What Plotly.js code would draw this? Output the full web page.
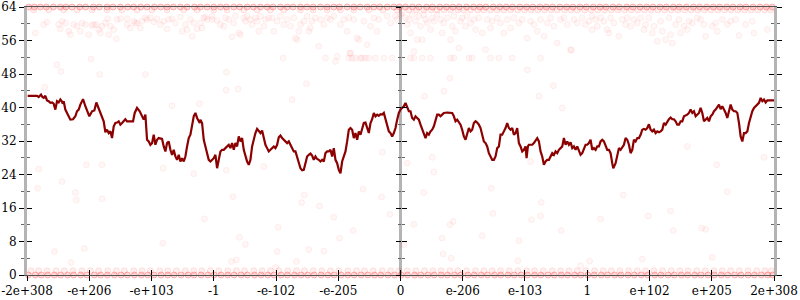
<!DOCTYPE html>
<html><head><meta charset="utf-8">
<script src="https://cdn.plot.ly/plotly-3.0.1.min.js"></script>
<style>html,body{margin:0;padding:0;background:#fff}#chart{width:800px;height:300px}</style>
</head><body><div id="chart"></div>
<script>
// X tick positions (ordinal float axis) and labels
const tickPos = [-1120,-933.3,-746.7,-560,-373.3,-186.7,0,186.7,373.3,560,746.7,933.3,1120];
const tickLabels = ['-2e+308','-e+206','-e+103','-1','-e-102','-e-205','0','e-206','e-103','1','e+102','e+205','2e+308'];
const yTicks = [0,8,16,24,32,40,48,56,64];

// Main line series
const lineX = [-1118,-1090,-1085,-1078,-1074,-1070,-1065,-1060,-1055,-1050,-1045,-1040,-1035,-1030,-1025,-1020,-1015,-1013,-1010,-1005,-1000,-995,-990,-982,-975,-970,-965,-960,-952,-945,-938,-933,-925,-918,-912,-905,-900,-895,-890,-885,-880,-875,-870,-865,-860,-855,-850,-845,-840,-835,-830,-825,-820,-810,-802,-797,-790,-782,-775,-770,-765,-760,-755,-750,-745,-740,-735,-730,-725,-715,-710,-705,-700,-695,-690,-685,-680,-675,-670,-665,-660,-655,-650,-645,-640,-635,-630,-625,-620,-615,-610,-602,
-600,-595,-590,-585,-580,-575,-570,-560,-555,-550,-545,-540,-535,-530,-525,-520,-515,-510,-505,-500,-495,-490,-485,-480,-475,-470,-465,-460,-455,-450,-445,-440,-435,-430,-425,-420,-415,-410,-405,-400,-395,-390,-385,-380,-375,-370,-365,-360,-355,-350,-345,-340,-335,-330,-325,-320,-315,-310,-305,-300,-295,-290,-285,-280,-275,-270,-265,-260,-255,-250,-245,-240,-235,-230,-225,-220,-215,-210,-205,-200,-195,-190,-185,-180,-175,-170,-165,-160,-155,-150,-145,-140,-135,-130,-125,-120,-115,-110,-105,-100,-95,-90,-85,-80,-75,-70,-65,-60,-55,-50,-45,-40,-35,-30,-25,-20,-15,-10,-5,
0,5,10,15,20,25,30,35,40,45,50,55,60,65,70,75,80,85,90,95,100,105,110,115,120,125,130,140,150,155,160,165,170,175,180,185,190,195,200,205,210,215,220,225,230,235,240,245,250,255,260,265,270,275,280,285,290,295,300,305,310,315,320,325,330,335,340,345,350,355,360,365,370,375,378,382,385,390,395,400,405,410,415,420,425,430,435,440,445,450,455,460,465,470,475,480,485,490,495,500,505,510,515,520,525,530,535,540,545,550,555,560,565,570,575,580,585,590,595,
600,605,610,615,620,625,630,635,638,645,650,655,660,665,670,675,680,685,690,695,700,705,710,715,720,725,730,735,740,745,750,755,760,765,770,775,780,785,790,795,800,805,810,815,820,825,830,835,840,845,850,855,860,865,870,875,880,885,890,895,900,905,910,915,920,925,930,935,940,945,950,955,960,965,970,975,980,985,990,995,1000,1005,1010,1015,1020,1025,1030,1035,1040,1045,1050,1055,1060,1065,1070,1075,1080,1085,1090,1095,1100,1105,1110,1120];
const lineY = [42.8,42.8,42.5,43.1,42.5,42.3,42.8,41.7,41.5,41.1,41.2,40.9,39.5,41.5,41.2,41.9,41.4,40.9,41.5,39.5,38.7,37.9,37.1,37.2,37.9,39.1,39.5,40.7,42.0,40.3,38.7,37.9,39.1,39.3,41.2,39.9,38.7,37.7,36.7,34.1,34.7,33.9,34.3,32.7,35.5,36.3,36.4,36.7,35.9,36.3,36.7,37.2,36.7,36.7,36.7,38.7,39.9,39.1,37.9,37.1,38.3,32.3,31.9,31.1,31.5,33.5,31.1,32.3,32.7,32.5,30.7,29.5,31.5,31.9,29.9,28.7,29.9,28.3,27.5,28.7,27.1,27.9,27.1,28.3,30.7,32.7,33.5,35.5,37.9,38.7,37.5,36.3,
37.1,36.3,32.3,30.7,28.7,27.5,27.1,27.9,28.7,25.5,27.5,29.5,29.9,29.9,30.3,30.7,31.1,30.3,31.5,29.9,31.5,30.7,33.1,31.9,32.7,29.9,28.3,27.1,26.3,27.5,30.7,32.7,33.9,34.9,34.3,33.9,34.5,32.7,31.1,30.3,29.5,29.9,30.3,30.7,30.3,31.1,32.9,33.3,32.7,32.3,31.9,31.5,31.9,31.1,30.7,29.5,29.5,28.3,26.7,25.5,25.0,25.1,26.7,28.3,28.7,29.0,28.5,27.5,28.3,27.7,27.5,27.1,27.5,27.1,29.1,29.5,29.5,29.9,28.3,30.3,27.5,26.7,25.1,24.3,27.1,28.3,29.5,31.9,34.7,35.1,34.7,32.7,33.9,32.3,34.3,33.5,34.7,36.3,36.4,35.1,33.9,36.3,37.2,38.7,37.9,38.3,38.0,38.4,38.3,38.7,37.1,35.5,34.3,33.9,33.1,33.9,35.1,37.1,38.7,
39.5,39.9,40.3,41.1,39.9,39.1,39.1,37.5,37.1,37.9,37.5,37.1,35.9,34.7,33.5,32.7,33.9,33.5,34.3,34.7,35.5,37.1,38.3,38.3,37.9,38.3,38.7,38.8,38.8,38.7,37.9,36.7,37.1,36.3,35.9,34.7,33.1,32.3,33.9,35.1,34.3,34.7,36.3,36.7,36.4,35.9,35.1,33.5,31.9,31.5,30.7,29.1,28.3,27.5,27.5,28.3,30.3,30.7,33.5,33.5,34.3,35.1,36.3,35.1,34.7,35.1,33.5,33.9,35.1,31.5,30.7,29.5,29.9,30.7,27.9,30.7,31.1,31.1,31.1,31.5,32.3,32.7,31.9,29.5,28.3,26.3,27.1,27.5,27.5,28.3,29.1,28.7,29.5,29.1,29.9,30.3,30.7,32.7,31.1,31.9,31.1,31.7,30.3,30.7,29.9,30.7,29.5,28.7,29.1,30.3,31.1,31.1,31.5,32.3,29.9,30.3,29.9,30.7,30.7,
31.9,32.3,31.9,31.1,29.9,29.9,29.1,26.7,25.5,26.7,28.7,30.3,29.9,30.7,31.1,32.7,32.3,31.1,29.1,29.9,32.3,31.9,32.7,32.7,33.5,34.7,34.9,34.7,35.1,36.0,34.7,34.3,34.7,33.9,34.3,34.1,34.3,34.7,36.3,35.9,36.7,37.2,37.6,37.2,37.2,36.7,35.9,35.9,36.7,36.7,37.9,38.1,38.3,38.7,39.5,38.7,39.1,37.9,38.3,38.7,39.9,38.7,36.7,37.1,37.5,36.7,37.9,38.3,39.1,39.5,40.3,40.7,39.6,40.3,39.5,38.7,37.5,39.1,40.7,39.5,39.1,39.1,38.7,36.3,33.1,31.9,33.9,33.9,34.3,36.3,37.9,39.1,39.9,40.3,40.7,41.1,42.3,41.5,41.9,41.2,41.7,41.7,41.7,41.7];

// Faint sample points: dense rows at the top and bottom
const topRowX = [-1115,-1098,-1080,-1062,-1041,-1020,-1003,-985,-962,-944,-921,-903,-880,-862,-840,-818,-800,-779,-760,-738,-719,-700,-681,-660,-640,-618,-600,-580,-560,-540,-522,-500,-482,-460,-441,-420,-400,-382,-360,-340,-322,-300,-281,-262,-240,-220,-200,-183,-160,-140,-121,-100,-80,-62,-40,-20,-3,15,36,55,78,96,118,138,157,176,198,219,238,256,278,298,317,336,358,378,397,418,437,456,478,498,517,538,557,578,598,616,637,656,678,697,718,738,757,778,797,818,836,857,878,897,918,938,957,978,997,1018,1036,1057,1078,1097,1115];
const top2X = [-1100,-1055,-1010,-970,-925,-880,-835,-790,-745,-700,-650,-610,-560,-520,-470,-430,-390,-350,-300,-262,-220,-180,-140,-95,-52,-10,25,48,70,92,110,130,150,172,190,210,232,250,270,290,310,330,352,372,392,412,432,452,470,492,512,530,552,572,592,612,632,652,672,692,712,732,752,772,792,812,832,852,872,892,912,932,952,972,992,1012,1032,1052,1072,1092,1110];
const botRowX = [-1116,-1095,-1077,-1058,-1038,-1019,-998,-980,-959,-940,-918,-899,-879,-858,-838,-819,-798,-777,-758,-739,-718,-698,-679,-658,-637,-619,-598,-578,-559,-538,-518,-499,-478,-459,-438,-418,-398,-379,-358,-339,-318,-298,-278,-259,-238,-218,-199,-178,-158,-139,-118,-98,-78,-59,-38,-18,2,21,42,61,82,101,122,141,162,181,202,221,242,261,282,301,322,341,362,381,402,421,442,461,482,501,522,541,562,581,602,621,642,661,682,701,722,741,762,781,802,821,842,861,882,901,922,941,962,981,1002,1021,1042,1061,1082,1101,1116];
const bot2X = [-1108,-1085,-1060,-1033,-1008,-982,-955,-930,-905,-878,-852,-828,-800,-775,-750,-722,-698,-672,-645,-620,-596,-570,-545,-518,-492,-468,-440,-415,-390,-365,-338,-312,-288,-262,-236,-210,-185,-158,-132,-108,-82,-55,-30,-5,20,46,72,97,122,148,172,198,225,250,275,300,326,352,378,402,428,455,480,505,530,556,582,608,632,658,684,710,735,760,786,812,838,862,888,914,940,965,990,1016,1042,1068,1093,1112];

// Scattered points (x, y pairs)
const scatX = [-1095,-1070,-1060,-1025,-1020,-1015,-1005,-995,-990,-980,-970,-960,-955,-945,-935,-925,-920,-912,-905,-900,-895,-885,-878,-875,-870,-860,-852,-850,-840,-820,-820,-810,-800,-795,-790,-780,-775,-765,-760,-750,-740,-730,-720,-710,-700,-695,-685,-675,-660,-655,-645,-640,-630,-625,-620,-610,-600,-595,-590,-585,-580,-565,-1030,-928,
-565,-550,-540,-530,-525,-515,-505,-500,-495,-485,-480,-470,-465,-460,-450,-445,-435,-430,-425,-420,-410,-405,-395,-385,-380,-370,-360,-350,-340,-330,-320,-315,-310,-305,-300,-290,-280,-275,-270,-265,-255,-245,-240,-230,-225,-220,-210,-200,-195,-190,-180,-170,-160,-155,-150,-145,-140,-130,-125,-120,-110,-105,-100,-90,-80,-75,-70,-65,-50,-40,-30,-25,-15,-10,0,-352,
5,15,20,25,30,35,40,45,50,55,60,65,70,75,80,90,95,100,110,120,125,130,140,150,155,160,165,175,180,185,195,200,210,220,225,235,245,255,260,270,275,290,300,310,320,330,340,355,365,380,390,400,410,420,430,440,450,460,470,480,490,500,510,520,530,545,555,565,575,
30,40,65,90,150,160,205,215,270,295,335,420,
575,585,590,600,610,620,625,630,640,655,665,675,680,690,700,710,720,730,735,745,755,760,770,780,785,795,805,810,815,825,835,840,850,860,865,875,890,900,910,915,935,945,950,965,980,990,1005,1015,1035,1055,1060,1100,
-1018,-1067,-902,-765,-685,-603,-522,-523,-487,-325,-282,-152,-155,-135,-115,-95,148,130,72,380,458,415,485,512,860,
-1085,-1015,-975,-972,-942,-895,-895,-1038,-988,-948,-712,-713,-1088,-620,-588,-522,-507,-502,-492,-483,-465,-452,-410,-375,-370,-367,-312,-297,-288,-275,-243,-230,-200,-183,-142,-112,-57,-55,-32,
20,95,100,70,40,148,158,125,128,152,10,272,277,245,355,352,393,420,422,390,482,540,567,600,668,725,743,810,818,903,915,935,948,980,1090];
const scatY = [57.8,59.8,60.4,59.8,58.8,60.6,60.2,58.2,57.4,59.8,59.4,58.2,60.2,59.8,57.4,59.6,59.8,59.8,58.6,57.8,59.4,60.2,61.2,57.4,59.4,58.6,56.4,61.0,61.2,61.2,59.8,59.0,60.6,60.2,60.1,59.0,60.6,61.4,61.0,61.4,60.4,61.2,59.8,60.6,58.8,61.0,61.2,60.2,61.6,58.2,59.8,58.6,61.0,57.0,60.2,58.8,60.2,59.0,61.4,61.6,61.0,61.8,50.2,51.6,
61.0,60.8,59.8,59.4,61.4,61.0,56.9,60.2,61.8,57.8,57.4,61.4,60.6,61.8,61.0,59.8,61.4,60.6,58.2,61.8,59.4,61.0,61.4,61.4,58.2,60.6,61.8,59.8,61.0,59.4,61.4,56.6,56.2,58.2,59.8,60.6,61.8,58.2,59.0,60.6,61.4,54.6,61.0,59.8,51.8,61.4,61.0,61.8,51.0,52.2,59.8,61.0,58.2,61.4,53.0,51.8,61.0,56.6,56.2,51.8,60.6,51.8,55.0,59.4,61.4,51.8,58.2,61.0,51.8,61.8,60.2,51.8,61.8,61.0,62.2,51.8,
62.6,61.4,59.8,61.0,57.8,62.2,53.4,60.6,56.2,61.8,59.4,56.2,62.2,61.0,60.2,58.6,61.4,60.6,62.2,61.0,57.8,60.2,61.4,56.2,59.4,61.8,58.2,54.2,60.6,61.4,59.4,61.8,60.2,61.0,58.6,61.4,57.8,53.8,61.0,59.0,60.6,61.4,60.2,57.8,61.0,59.0,61.4,60.2,61.0,56.6,60.6,59.8,58.2,61.0,57.0,60.2,61.4,59.4,55.4,61.0,61.4,59.8,53.8,61.0,60.2,61.4,59.8,60.6,58.6,
51.8,51.8,51.8,51.8,51.8,51.8,51.8,51.8,51.8,51.8,51.8,51.8,
61.8,61.0,59.4,61.4,60.6,58.6,57.8,61.4,60.2,57.0,61.0,59.8,61.4,59.4,61.0,60.2,61.4,58.6,59.8,61.4,57.8,59.4,55.8,60.6,58.2,56.2,61.4,57.4,55.4,59.8,61.0,57.8,59.4,58.6,60.6,60.2,61.4,61.0,59.8,57.0,59.4,60.2,58.2,61.0,59.8,60.6,61.0,57.2,59.8,60.6,57.8,58.6,
48.6,44.9,47.9,47.9,40.4,40.9,48.4,44.1,44.4,41.9,45.7,52.9,51.8,51.8,51.8,51.8,47.0,43.9,42.7,49.0,45.2,42.7,39.9,53.7,30.7,
25.3,22.3,19.7,17.9,26.3,26.3,18.2,5.6,3.0,6.3,25.5,7.6,20.7,24.2,13.4,25.0,3.2,18.7,3.6,9.0,7.3,27.9,25.9,1.8,5.6,11.4,3.2,17.3,19.1,6.1,16.5,5.7,13.8,8.8,10.6,20.5,18.6,29.3,14.5,
26.7,28.1,24.6,19.7,12.1,12.0,12.8,8.8,5.0,4.0,7.2,20.7,14.7,9.4,8.2,3.4,13.2,14.1,17.3,27.1,10.6,2.2,3.3,13.4,19.1,3.8,14.1,15.3,10.6,11.2,10.9,4.2,26.3,19.9,28.1];
</script>
<script>
const edgeX = [].concat(topRowX, botRowX);
const edgeY = [].concat(topRowX.map(() => 64), botRowX.map(() => 0));
const nearX = [].concat(top2X, bot2X);
const nearY = [].concat(top2X.map(() => 63.3), bot2X.map(() => 1.0));

const tickFont = {family: 'DejaVu Serif', size: 12, color: '#000'};
const data = [
  {x: scatX, y: scatY, type: 'scatter', mode: 'markers', hoverinfo: 'skip', cliponaxis: false,
   marker: {size: 6, color: 'rgba(255,0,0,0.035)', line: {width: 1, color: 'rgba(255,0,0,0.055)'}}},
  {x: nearX, y: nearY, type: 'scatter', mode: 'markers', hoverinfo: 'skip', cliponaxis: false,
   marker: {size: 6, color: 'rgba(255,0,0,0.06)', line: {width: 1, color: 'rgba(255,0,0,0.1)'}}},
  {x: edgeX, y: edgeY, type: 'scatter', mode: 'markers', hoverinfo: 'skip', cliponaxis: false,
   marker: {size: 6, color: 'rgba(255,0,0,0.14)', line: {width: 1, color: 'rgba(255,0,0,0.25)'}}},
  {x: lineX, y: lineY, type: 'scatter', mode: 'lines', line: {color: '#8b0000', width: 2.2}},
  {x: [], y: [], xaxis: 'x2', yaxis: 'y2', type: 'scatter'},
  {x: [], y: [], xaxis: 'x', yaxis: 'y3', type: 'scatter'},
  {x: [], y: [], xaxis: 'x', yaxis: 'y4', type: 'scatter'}
];
const yBase = {range: [0, 64], tickvals: yTicks, showgrid: false, zeroline: false, fixedrange: true};
const layout = {
  width: 800, height: 300,
  margin: {l: 27, r: 26, t: 7, b: 25},
  paper_bgcolor: '#fff', plot_bgcolor: '#fff',
  showlegend: false,
  xaxis: {range: [-1120, 1120], tickvals: tickPos, ticktext: tickLabels, ticks: 'outside', ticklen: 5,
          tickcolor: '#000', tickwidth: 1, showline: true, linecolor: '#555', linewidth: 1, mirror: true,
          showgrid: false, zeroline: true, zerolinecolor: '#b4b4b4', zerolinewidth: 3, tickfont: tickFont},
  xaxis2: {range: [-1120, 1120], tickvals: tickPos, overlaying: 'x', anchor: 'y', side: 'bottom',
           ticks: 'inside', ticklen: 5, tickcolor: '#000', showticklabels: false, showline: false,
           showgrid: false, zeroline: false},
  yaxis: Object.assign({}, yBase, {ticks: 'outside', ticklen: 5, tickcolor: '#000', showline: true,
          linecolor: '#b4b4b4', linewidth: 3, mirror: 'ticks', tickfont: tickFont,
          minor: {dtick: 4, ticks: 'outside', ticklen: 3, tickcolor: '#666'}}),
  yaxis2: Object.assign({}, yBase, {overlaying: 'y', anchor: 'x', side: 'left', ticks: 'inside', ticklen: 5,
          tickcolor: '#000', mirror: 'ticks', showline: true, linecolor: '#b4b4b4', linewidth: 3,
          showticklabels: false, minor: {dtick: 4, ticks: 'inside', ticklen: 3, tickcolor: '#666'}}),
  yaxis3: Object.assign({}, yBase, {overlaying: 'y', anchor: 'free', position: 0.5, side: 'left',
          ticks: 'outside', ticklen: 5, tickcolor: '#000', showline: false, showticklabels: false,
          minor: {dtick: 4, ticks: 'outside', ticklen: 3, tickcolor: '#666'}}),
  yaxis4: Object.assign({}, yBase, {overlaying: 'y', anchor: 'free', position: 0.5, side: 'left',
          ticks: 'inside', ticklen: 5, tickcolor: '#000', showline: false, showticklabels: false,
          minor: {dtick: 4, ticks: 'inside', ticklen: 3, tickcolor: '#666'}})
};
Plotly.newPlot('chart', data, layout, {staticPlot: true, displayModeBar: false});
</script>
</body></html>
